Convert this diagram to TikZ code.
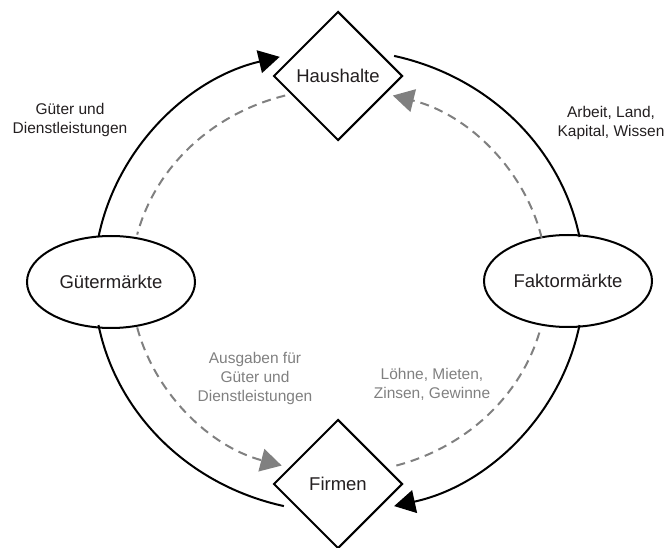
\documentclass[tikz,border=0pt]{standalone}
\usepackage{fontspec}
\setmainfont{Liberation Sans}
\usepackage{xcolor}
\usepackage{tikz}
\usetikzlibrary{shapes.geometric}
\usetikzlibrary{arrows.meta,calc}

\definecolor{darktext}{RGB}{35,31,32}
\definecolor{moneygray}{RGB}{128,128,128}

\begin{document}
\begin{tikzpicture}[x=1pt,y=1pt]
    \useasboundingbox (0,0) rectangle (667,547);
    \tikzstyle{sector}=[diamond, draw=black, line width=2pt, fill=white, inner sep=0pt,
    minimum width=129pt, minimum height=129pt, text=darktext, font=\fontsize{18.5}{22}\selectfont]
    \tikzstyle{market}=[ellipse, draw=black, line width=2pt, fill=white, inner sep=0pt,
    minimum width=168pt, minimum height=92pt, text=darktext, font=\fontsize{18.5}{22}\selectfont]
    \tikzstyle{goods}=[line width=2pt, black]
    \tikzstyle{money}=[line width=2pt, moneygray, dash pattern=on 9pt off 6pt]
    \tikzstyle{flowtip}=[-{Triangle[length=21pt,width=23pt]}]
    \tikzstyle{flowtext}=[align=center, inner sep=0pt, font=\fontsize{15.5}{19}\selectfont]

    \node[sector](hh) at (338,471){Haushalte};
    \node[sector](fm) at (338,63){Firmen};
    \node[market](gm) at (111,265){Gütermärkte};
    \node[market](fk) at (568,266){Faktormärkte};

    \coordinate (ctr) at (339,266);

% outer ring: goods and factors
    \coordinate (g1) at ($(ctr)+(169:245 and 231)$);
    \coordinate (g2) at ($(ctr)+(77:245 and 231)$);
    \coordinate (g3) at ($(ctr)+(-11:245 and 231)$);
    \coordinate (g4) at ($(ctr)+(257:245 and 231)$);
    \draw[goods, flowtip] (g1) arc[start angle=169, end angle=104, x radius=245pt, y radius=231pt];
    \draw[goods] (g2) arc[start angle=77, end angle=11, x radius=245pt, y radius=231pt];
    \draw[goods, flowtip] (g3) arc[start angle=-11, end angle=-77, x radius=245pt, y radius=231pt];
    \draw[goods] (g4) arc[start angle=257, end angle=191, x radius=245pt, y radius=231pt];

% inner ring: money
    \coordinate (m1) at ($(ctr)+(105:208 and 192)$);
    \coordinate (m2) at ($(ctr)+(194:208 and 192)$);
    \coordinate (m3) at ($(ctr)+(-74:208 and 192)$);
    \coordinate (m4) at ($(ctr)+(13:208 and 192)$);
    \draw[money] (m1) arc[start angle=105, end angle=166, x radius=208pt, y radius=192pt];
    \draw[money, flowtip] (m2) arc[start angle=194, end angle=254, x radius=208pt, y radius=192pt];
    \draw[money] (m3) arc[start angle=-74, end angle=-14, x radius=208pt, y radius=192pt];
    \draw[money, flowtip] (m4) arc[start angle=13, end angle=75, x radius=208pt, y radius=192pt];

    \node[flowtext, text=darktext](gd) at (70,427){Güter und\\Dienstleistungen};
    \node[flowtext, text=darktext](aw) at (611,424){Arbeit, Land,\\Kapital, Wissen};
    \node[flowtext, text=moneygray](ag) at (255,169){Ausgaben für\\Güter und\\Dienstleistungen};
    \node[flowtext, text=moneygray](lz) at (432,163){Löhne, Mieten,\\Zinsen, Gewinne};
\end{tikzpicture}
\end{document}
